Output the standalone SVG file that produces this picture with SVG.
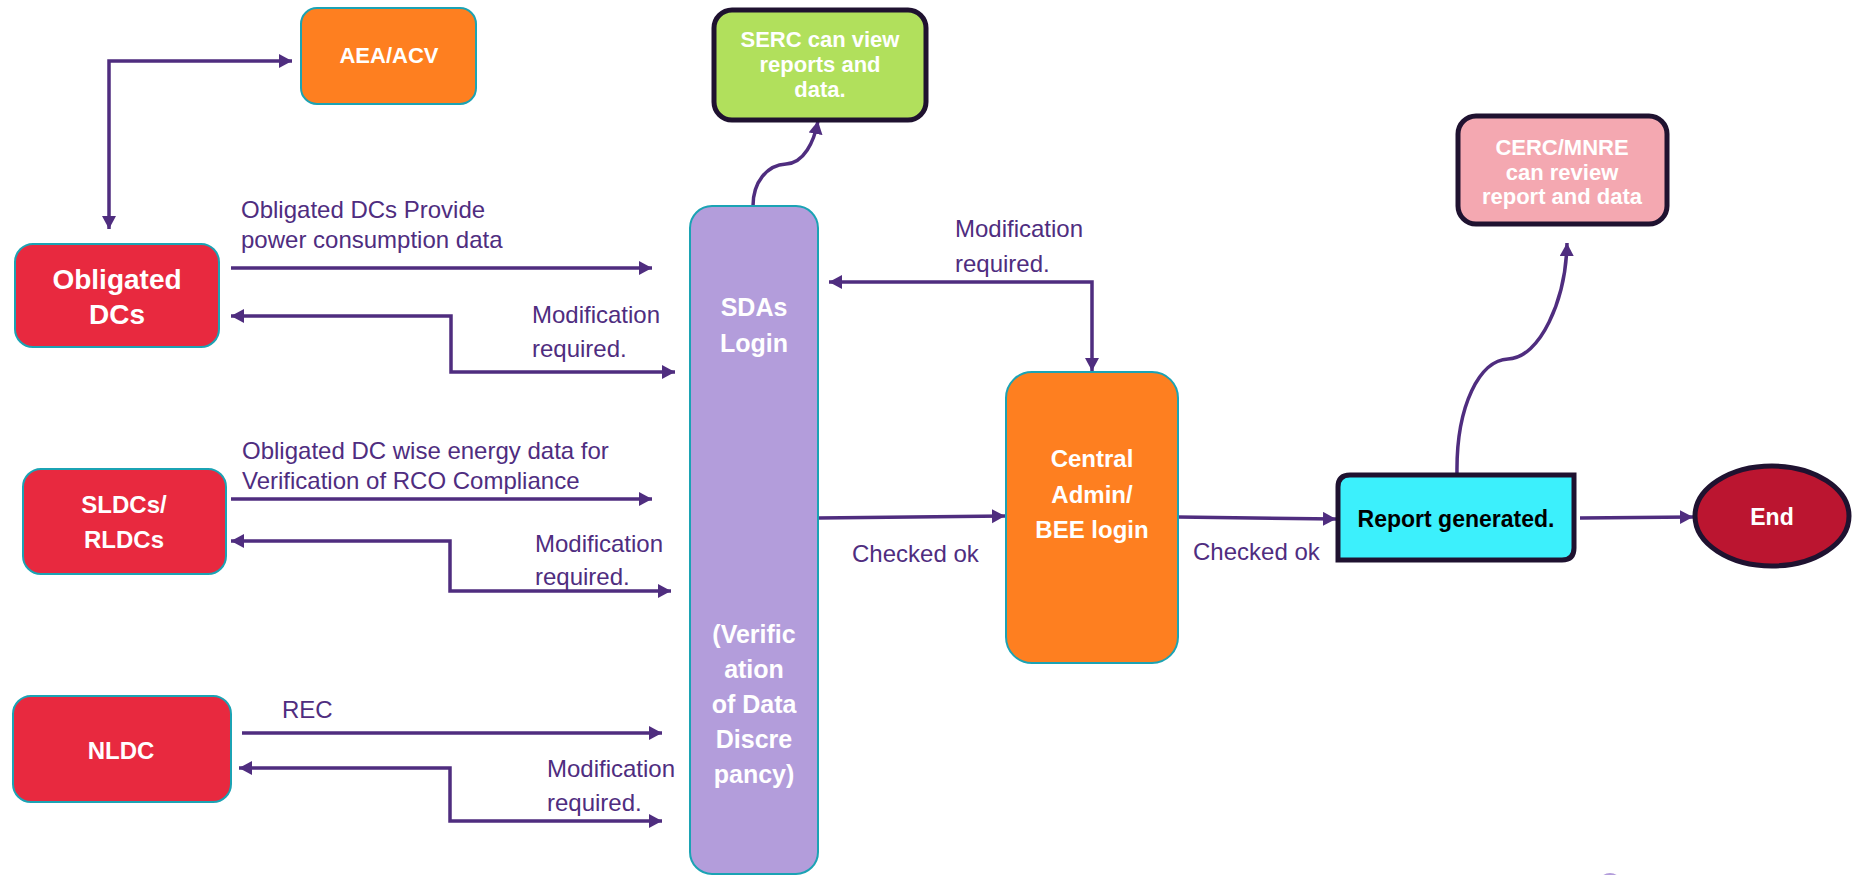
<svg xmlns="http://www.w3.org/2000/svg" width="1863" height="875" viewBox="0 0 1863 875">
<style>
.lbl{font-family:"Liberation Sans",Arial,sans-serif;font-size:24px;fill:#4F2D7F}
.nt{font-family:"Liberation Sans",Arial,sans-serif;font-weight:bold;fill:#FFFFFF;text-anchor:middle}
.teal{stroke:#1BA3B4;stroke-width:2}
.dark{stroke:#1F1230;stroke-width:5}
.con{fill:none;stroke:#4F2D7F;stroke-width:3.5}
</style>
<defs>
<marker id="ah" markerUnits="userSpaceOnUse" markerWidth="16" markerHeight="16" refX="13" refY="7" orient="auto-start-reverse">
<path d="M0,0 L13,7 L0,14 z" fill="#4F2D7F"/>
</marker>
</defs>
<rect width="1863" height="875" fill="#FFFFFF"/>

<g id="connectors">
<path class="con" d="M109,229 L109,61 L292,61" marker-start="url(#ah)" marker-end="url(#ah)"/>
<path class="con" d="M231,268 L652,268" marker-end="url(#ah)"/>
<path class="con" d="M231,316 L451,316 L451,372 L675,372" marker-start="url(#ah)" marker-end="url(#ah)"/>
<path class="con" d="M231,499 L652,499" marker-end="url(#ah)"/>
<path class="con" d="M231,541 L450,541 L450,591 L671,591" marker-start="url(#ah)" marker-end="url(#ah)"/>
<path class="con" d="M242,733 L662,733" marker-end="url(#ah)"/>
<path class="con" d="M239,768 L450,768 L450,821 L662,821" marker-start="url(#ah)" marker-end="url(#ah)"/>
<path class="con" d="M753,206 C753,182 767,165 786,164 C804,163 814,142 818,121" marker-end="url(#ah)"/>
<path class="con" d="M829,282 L1092,282 L1092,371" marker-start="url(#ah)" marker-end="url(#ah)"/>
<path class="con" d="M818,518 L1005,516" marker-end="url(#ah)"/>
<path class="con" d="M1178,517 L1336,519" marker-end="url(#ah)"/>
<path class="con" d="M1580,518 L1693,517" marker-end="url(#ah)"/>
<path class="con" d="M1457,474 C1456,405 1480,360 1508,359 C1540,358 1566,300 1567,243" marker-end="url(#ah)"/>
</g>

<g id="aea">
<rect class="teal" x="301" y="8" width="175" height="96" rx="16" fill="#FE7F20"/>
<text class="nt" x="389" y="63" font-size="22">AEA/ACV</text>
</g>

<g id="obligated">
<rect class="teal" x="15" y="244" width="204" height="103" rx="18" fill="#E8293F"/>
<text class="nt" x="117" y="289" font-size="28">Obligated</text>
<text class="nt" x="117" y="324" font-size="28">DCs</text>
</g>

<g id="sldcs">
<rect class="teal" x="23" y="469" width="203" height="105" rx="18" fill="#E8293F"/>
<text class="nt" x="124" y="513" font-size="24">SLDCs/</text>
<text class="nt" x="124" y="548" font-size="24">RLDCs</text>
</g>

<g id="nldc">
<rect class="teal" x="13" y="696" width="218" height="106" rx="18" fill="#E8293F"/>
<text class="nt" x="121" y="759" font-size="24">NLDC</text>
</g>

<g id="serc">
<rect class="dark" x="714" y="10" width="212" height="110" rx="18" fill="#B1E05C"/>
<text class="nt" x="820" y="47" font-size="22">SERC can view</text>
<text class="nt" x="820" y="72" font-size="22">reports and</text>
<text class="nt" x="820" y="97" font-size="22">data.</text>
</g>

<g id="sdas">
<rect class="teal" x="690" y="206" width="128" height="668" rx="22" fill="#B39DDB"/>
<text class="nt" x="754" y="316" font-size="25">SDAs</text>
<text class="nt" x="754" y="352" font-size="25">Login</text>
<text class="nt" x="754" y="643" font-size="25">(Verific</text>
<text class="nt" x="754" y="678" font-size="25">ation</text>
<text class="nt" x="754" y="713" font-size="25">of Data</text>
<text class="nt" x="754" y="748" font-size="25">Discre</text>
<text class="nt" x="754" y="783" font-size="25">pancy)</text>
</g>

<g id="central">
<rect class="teal" x="1006" y="372" width="172" height="291" rx="26" fill="#FE7F20"/>
<text class="nt" x="1092" y="467" font-size="24">Central</text>
<text class="nt" x="1092" y="503" font-size="24">Admin/</text>
<text class="nt" x="1092" y="538" font-size="24">BEE login</text>
</g>

<g id="cerc">
<rect class="dark" x="1458" y="116" width="209" height="108" rx="18" fill="#F4A8B1"/>
<text class="nt" x="1562" y="155" font-size="22">CERC/MNRE</text>
<text class="nt" x="1562" y="180" font-size="22">can review</text>
<text class="nt" x="1562" y="204" font-size="22">report and data</text>
</g>

<g id="report">
<path class="dark" d="M1338,560 L1338,487 Q1338,475 1350,475 L1574,475 L1574,548 Q1574,560 1562,560 Z" fill="#3CF0FC"/>
<text x="1456" y="527" font-family="Liberation Sans, Arial, sans-serif" font-weight="bold" font-size="23" fill="#000000" text-anchor="middle">Report generated.</text>
</g>

<g id="end">
<ellipse class="dark" cx="1772" cy="516" rx="77" ry="50" fill="#BB1530"/>
<text class="nt" x="1772" y="525" font-size="23">End</text>
</g>

<g id="labels">
<text class="lbl" x="241" y="218">Obligated DCs Provide</text>
<text class="lbl" x="241" y="248">power consumption data</text>
<text class="lbl" x="532" y="323">Modification</text>
<text class="lbl" x="532" y="357">required.</text>
<text class="lbl" x="242" y="459">Obligated DC wise energy data for</text>
<text class="lbl" x="242" y="489">Verification of RCO Compliance</text>
<text class="lbl" x="535" y="552">Modification</text>
<text class="lbl" x="535" y="585">required.</text>
<text class="lbl" x="282" y="718">REC</text>
<text class="lbl" x="547" y="777">Modification</text>
<text class="lbl" x="547" y="811">required.</text>
<text class="lbl" x="955" y="237">Modification</text>
<text class="lbl" x="955" y="272">required.</text>
<text class="lbl" x="852" y="562">Checked ok</text>
<text class="lbl" x="1193" y="560">Checked ok</text>
</g>

<ellipse cx="1610" cy="881" rx="10" ry="8" fill="#B39DDB"/>
</svg>
